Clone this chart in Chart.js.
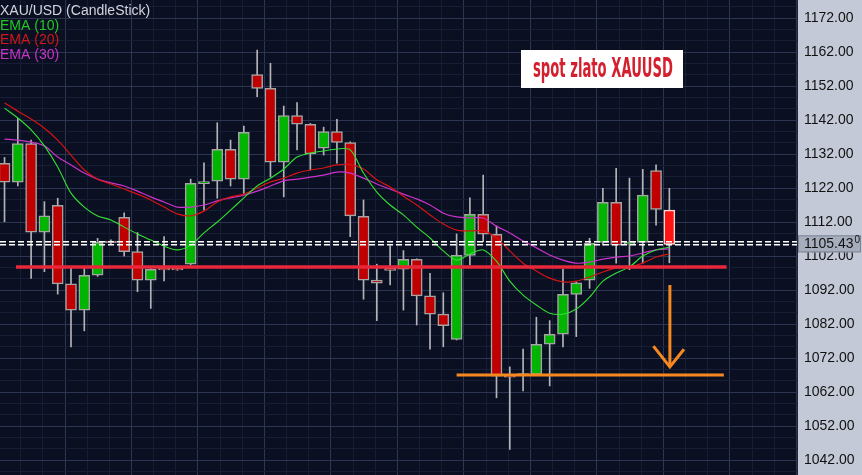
<!DOCTYPE html>
<html>
<head>
<meta charset="utf-8">
<script src="https://cdn.jsdelivr.net/npm/chart.js@4/dist/chart.umd.min.js"></script>
<style>
  body { margin: 0; background: #c3c9d6; }
  #wrap { width: 862px; height: 475px; }
</style>
</head>
<body>
<div id="wrap"><canvas id="priceChart"></canvas></div>
<script>
// XAU/USD candles
const open = [
  1129.3, 1123.7, 1135.1, 1109.0, 1116.9, 1093.8, 1086.1, 1096.4, 1106.4, 1113.4,
  1103.3, 1094.9, 1098.4, 1098.4, 1099.6, 1123.3, 1124.0, 1133.4, 1124.6, 1155.4,
  1151.3, 1129.6, 1143.3, 1140.7, 1133.7, 1138.6, 1135.4, 1113.7, 1094.9, 1098.4,
  1098.1, 1101.0, 1090.3, 1084.9, 1077.5, 1102.2, 1114.3, 1108.4, 1066.9, 1067.4,
  1067.2, 1076.1, 1079.0, 1090.7, 1094.9, 1106.0, 1117.8, 1105.5, 1106.0, 1127.1,
  1115.5
];
const high = [
  1131.0, 1142.5, 1136.1, 1118.0, 1119.0, 1098.4, 1098.4, 1107.2, 1106.8, 1114.7,
  1108.9, 1098.3, 1107.7, 1098.5, 1124.6, 1129.4, 1141.2, 1136.1, 1140.2, 1162.6,
  1158.7, 1146.1, 1147.1, 1141.0, 1139.9, 1142.2, 1135.6, 1118.5, 1099.6, 1105.0,
  1103.6, 1101.2, 1096.9, 1091.2, 1108.5, 1119.1, 1125.8, 1110.8, 1069.4, 1074.6,
  1084.0, 1083.0, 1098.1, 1094.4, 1107.2, 1121.9, 1127.8, 1124.9, 1127.5, 1128.8,
  1121.9
];
const low = [
  1112.1, 1122.6, 1095.4, 1097.4, 1090.8, 1075.3, 1080.0, 1096.0, 1105.5, 1102.0,
  1091.5, 1086.6, 1094.7, 1097.8, 1099.4, 1115.5, 1119.0, 1122.6, 1120.4, 1148.9,
  1125.3, 1119.4, 1133.2, 1127.3, 1131.7, 1129.3, 1107.7, 1089.3, 1083.0, 1093.5,
  1086.1, 1081.7, 1074.6, 1075.3, 1077.3, 1099.4, 1106.2, 1060.3, 1045.1, 1062.3,
  1067.0, 1063.8, 1075.3, 1078.3, 1092.5, 1105.2, 1099.9, 1098.0, 1099.9, 1111.1,
  1100.0
];
const close = [
  1123.7, 1135.1, 1109.0, 1113.8, 1093.8, 1086.1, 1096.3, 1106.0, 1105.9, 1103.3,
  1094.9, 1098.1, 1097.9, 1097.9, 1123.4, 1123.9, 1133.4, 1124.6, 1138.4, 1151.3,
  1129.6, 1143.3, 1140.8, 1132.0, 1138.6, 1135.4, 1113.8, 1094.9, 1094.0, 1097.8,
  1101.0, 1090.3, 1084.9, 1081.5, 1102.2, 1114.3, 1108.4, 1066.7, 1066.4, 1066.9,
  1076.0, 1079.0, 1090.7, 1094.1, 1105.7, 1117.8, 1105.2, 1106.1, 1119.9, 1115.7,
  1105.43
];

const ema10 = [
  1145.5, 1142.6, 1139.1, 1134.4, 1128.2, 1120.5, 1116.4, 1113.8, 1112.6, 1110.5,
  1108.5, 1106.7, 1104.9, 1103.8, 1105.2, 1108.8, 1112.0, 1115.5, 1119.1, 1122.6,
  1124.9, 1127.6, 1131.1, 1132.3, 1132.9, 1133.5, 1133.2, 1126.4, 1120.8, 1117.0,
  1114.1, 1110.5, 1107.3, 1103.5, 1100.8, 1102.6, 1103.8, 1100.5, 1094.6, 1090.5,
  1087.6, 1085.2, 1084.9, 1086.4, 1089.9, 1094.6, 1097.0, 1098.8, 1102.0, 1103.8,
  1104.6
];
const ema20 = [
  1147.0, 1144.6, 1142.3, 1139.6, 1136.1, 1131.7, 1127.3, 1124.6, 1123.2, 1121.7,
  1120.2, 1118.5, 1116.4, 1114.4, 1113.8, 1115.2, 1117.9, 1119.4, 1120.2, 1122.0,
  1123.8, 1124.9, 1126.4, 1127.3, 1127.9, 1128.8, 1128.8, 1127.6, 1124.4, 1122.3,
  1119.6, 1117.0, 1114.1, 1111.4, 1109.6, 1109.4, 1109.4, 1107.3, 1103.5, 1099.9,
  1097.6, 1095.5, 1094.4, 1094.6, 1095.8, 1097.3, 1098.5, 1098.8, 1099.9, 1101.7,
  1102.6
];
const ema30 = [
  1136.4, 1136.1, 1135.5, 1134.4, 1131.1, 1128.8, 1126.4, 1124.6, 1123.5, 1122.6,
  1121.1, 1119.4, 1117.9, 1116.4, 1116.4, 1117.0, 1118.2, 1119.1, 1119.9, 1121.1,
  1122.6, 1124.1, 1124.6, 1125.2, 1125.8, 1126.7, 1126.4, 1124.9, 1123.2, 1121.7,
  1120.2, 1118.8, 1117.0, 1114.6, 1113.5, 1113.2, 1113.2, 1110.8, 1108.8, 1106.4,
  1104.4, 1102.3, 1100.8, 1099.9, 1100.2, 1101.1, 1101.7, 1102.0, 1102.9, 1103.8,
  1104.1
];

// drawn levels and the arrow (bar index / price)
const supportLevel = 1098.8;
const supportSpan = [0.86, 54.3];
const targetLevel = 1067.0;
const targetSpan = [34.0, 54.1];
const bidAsk = [1106.2, 1105.3];
const lastPrice = 1105.43;
const arrowX = [50.04, 50.04];
const arrowY = [1093.5, 1069.4];
const headX = [48.8, 50.04, 51.1];
const headY = [1075.5, 1069.4, 1074.6];

const priceTicks = [1042, 1052, 1062, 1072, 1082, 1092, 1102, 1112, 1122, 1132, 1142, 1152, 1162, 1172];

const X_MIN = -0.34, X_MAX = 59.6;
const Y_MIN = 1037.6, Y_MAX = 1177.3;

const last = open.length - 1;
const bodyColors = open.map((o, i) =>
  i === last ? "#ff1414" : close[i] >= o ? "#00b400" : "#c00000");
const bodyBorders = open.map((o, i) => (i === last ? "#ffd6d6" : "#a4a4a4"));

const flat = (y, span) => span.map((x) => ({ x, y }));
const pts = (xs, ys) => xs.map((x, i) => ({ x, y: ys[i] }));
const series = (arr) => arr.map((y, i) => ({ x: i, y }));

// grid positions
const hGrid = [];
for (let v = 1042 - 10 / 3; v < Y_MAX; v += 10 / 3) hGrid.push(v);
const vGrid = [];
for (let v = 4.55 - 10 / 3; v < X_MAX; v += 5 / 3) if (v > X_MIN) vGrid.push(v);
const isMajorY = (v) => priceTicks.some((t) => Math.abs(t - v) < 1e-6);
const isMajorX = (v) => Math.abs((v - 4.55) / 5 - Math.round((v - 4.55) / 5)) < 1e-6;

const panel = {
  id: "panel",
  beforeDraw(chart) {
    const { ctx, chartArea: a, width, height } = chart;
    ctx.save();
    ctx.fillStyle = "#c3c9d6";
    ctx.fillRect(0, 0, width, height);
    ctx.fillStyle = "#0a1022";
    ctx.fillRect(a.left, a.top, a.right - a.left, a.bottom - a.top);
    ctx.restore();
  },
  afterDraw(chart) {
    const { ctx, chartArea: a } = chart;
    ctx.save();
    // legend
    ctx.font = '14px "Liberation Sans", Arial, sans-serif';
    ctx.textAlign = "left";
    ctx.textBaseline = "alphabetic";
    const leg = [
      ["XAU/USD (CandleStick)", "#d2d4dc"],
      ["EMA (10)", "#22c822"],
      ["EMA (20)", "#d01818"],
      ["EMA (30)", "#c832c8"],
    ];
    leg.forEach(([t, c], k) => {
      ctx.fillStyle = c;
      ctx.fillText(t, 0, 15 + k * 14.5);
    });

    // note box
    ctx.fillStyle = "#ffffff";
    ctx.fillRect(521, 50, 162, 38);
    ctx.font = 'bold 26px "Liberation Sans Narrow", "DejaVu Sans Condensed", sans-serif';
    const txt = "spot zlato XAUUSD";
    const w = ctx.measureText(txt).width;
    ctx.save();
    ctx.translate(603, 77);
    ctx.scale(140 / w, 1);
    ctx.textAlign = "center";
    ctx.fillStyle = "#d41f2e";
    ctx.fillText(txt, 0, 0);
    ctx.restore();

    // current price tag
    const py = chart.scales.y.getPixelForValue(lastPrice);
    ctx.fillStyle = "#a6aebd";
    ctx.fillRect(a.right + 1, py - 9, 63, 17);
    ctx.strokeStyle = "#7c8494";
    ctx.lineWidth = 1;
    ctx.strokeRect(a.right + 1.5, py - 8.5, 62, 16);
    ctx.fillStyle = "#111";
    ctx.textBaseline = "middle";
    ctx.font = '14px "Liberation Sans", Arial, sans-serif';
    const s = lastPrice.toFixed(2);
    ctx.fillText(s, a.right + 7, py);
    const sw = ctx.measureText(s).width;
    ctx.font = '10px "Liberation Sans", Arial, sans-serif';
    ctx.fillText("0", a.right + 8 + sw, py - 4);
    ctx.restore();
  },
};

const lineBase = { type: "line", pointRadius: 0, fill: false, tension: 0 };

new Chart(document.getElementById("priceChart"), {
  type: "bar",
  data: {
    datasets: [
      {
        data: open.map((o, i) => ({ x: i, y: [low[i], high[i]] })),
        backgroundColor: "#b4b4b8",
        barThickness: 1,
        grouped: false,
        order: 10,
      },
      {
        data: open.map((o, i) => ({ x: i, y: [o, close[i]] })),
        backgroundColor: bodyColors,
        borderColor: bodyBorders,
        borderWidth: 1.5,
        borderSkipped: false,
        barThickness: 11,
        grouped: false,
        order: 9,
      },
      { ...lineBase, data: series(ema30), borderColor: "#cc33cc", borderWidth: 1.2, tension: 0.3, order: 6 },
      { ...lineBase, data: series(ema20), borderColor: "#d41414", borderWidth: 1.2, tension: 0.3, order: 5 },
      { ...lineBase, data: series(ema10), borderColor: "#33e033", borderWidth: 1.1, tension: 0.3, order: 4 },
      { ...lineBase, data: flat(bidAsk[0], [X_MIN, X_MAX]), borderColor: "#ffffff", borderWidth: 1.4, borderDash: [6, 3], order: 3 },
      { ...lineBase, data: flat(bidAsk[1], [X_MIN, X_MAX]), borderColor: "#ffffff", borderWidth: 1.4, borderDash: [6, 3], order: 3 },
      { ...lineBase, data: flat(supportLevel, supportSpan), borderColor: "#e8283a", borderWidth: 3.5, order: 2 },
      { ...lineBase, data: flat(targetLevel, targetSpan), borderColor: "#f7881f", borderWidth: 3, order: 2 },
      { ...lineBase, data: pts(arrowX, arrowY), borderColor: "#f7881f", borderWidth: 3, order: 1 },
      { ...lineBase, data: pts(headX, headY), borderColor: "#f7881f", borderWidth: 3, borderJoinStyle: "miter", order: 1 },
    ],
  },
  options: {
    responsive: true,
    maintainAspectRatio: false,
    animation: false,
    layout: { padding: 0, autoPadding: false },
    plugins: { legend: { display: false }, tooltip: { enabled: false } },
    scales: {
      x: {
        type: "linear",
        min: X_MIN,
        max: X_MAX,
        offset: false,
        bounds: "data",
        grid: {
          offset: false,
          drawTicks: false,
          color: (c) => (c.tick && isMajorX(c.tick.value) ? "#2c3652" : "#161e36"),
        },
        border: { display: false },
        ticks: { display: false, autoSkip: false },
        afterBuildTicks: (s) => { s.ticks = vGrid.map((v) => ({ value: v })); },
        afterFit: (s) => { s.height = 0; s.paddingLeft = 0; s.paddingRight = 0; },
      },
      y: {
        position: "right",
        min: Y_MIN,
        max: Y_MAX,
        beginAtZero: false,
        bounds: "data",
        grid: {
          drawTicks: false,
          color: (c) => (c.tick && isMajorY(c.tick.value) ? "#2c3652" : "#161e36"),
        },
        border: { display: true, color: "#20242e", width: 1 },
        ticks: {
          autoSkip: false,
          padding: 7,
          color: "#111",
          font: { family: "Liberation Sans", size: 14 },
          callback: (v) => (isMajorY(v) ? v.toFixed(2) : ""),
        },
        afterBuildTicks: (s) => { s.ticks = hGrid.map((v) => ({ value: v })); },
        afterFit: (s) => { s.width = 65; s.paddingTop = 0; s.paddingBottom = 0; },
      },
    },
  },
  plugins: [panel],
});
</script>
</body>
</html>
